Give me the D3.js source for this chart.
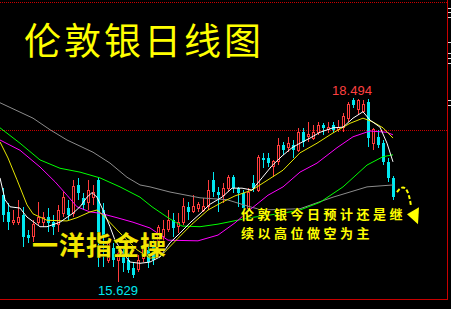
<!DOCTYPE html>
<html>
<head>
<meta charset="utf-8">
<script src="https://cdn.jsdelivr.net/npm/d3@7"></script>
<style>
  html, body { margin: 0; padding: 0; background: #000; overflow: hidden; }
</style>
</head>
<body>
<div id="chart"></div>
<script>
// daily candles, [open, high, low, close]
const candles = [
  [16.98,17.09,16.56,16.67],[16.72,16.86,16.44,16.56],[16.55,16.75,16.52,16.59],[16.55,16.91,16.52,16.64],
  [16.67,16.80,16.17,16.33],[16.36,16.44,16.24,16.31],[16.33,16.59,16.25,16.52],[16.55,16.87,16.52,16.63],
  [16.56,16.72,16.49,16.64],[16.64,16.78,16.41,16.55],[16.56,16.67,16.36,16.49],[16.52,16.83,16.41,16.75],
  [16.70,17.03,16.64,16.95],[16.78,16.91,16.59,16.67],[16.70,17.22,16.64,17.11],[17.14,17.25,16.91,17.02],
  [16.94,17.02,16.75,16.83],[16.86,17.22,16.75,17.06],[16.94,17.14,16.83,17.03],[17.22,17.26,15.86,16.41],
  [16.75,16.86,15.86,16.33],[15.97,16.25,15.92,16.24],[16.16,16.24,15.86,15.97],[15.97,16.13,15.629,16.08],
  [16.08,16.17,15.78,15.92],[15.97,16.08,15.77,15.82],[15.85,15.94,15.69,15.74],[15.82,16.05,15.78,15.97],
  [16.00,16.28,15.94,16.20],[16.13,16.22,15.85,15.94],[16.17,16.28,15.89,15.97],[16.28,16.52,16.20,16.47],
  [16.33,16.59,16.25,16.44],[16.44,16.75,16.41,16.59],[16.59,16.70,16.33,16.47],[16.49,16.70,16.39,16.56],
  [16.55,16.94,16.52,16.80],[16.80,16.87,16.59,16.72],[16.72,16.98,16.70,16.80],[16.78,16.87,16.72,16.83],
  [16.75,16.94,16.72,16.80],[16.80,17.22,16.75,17.06],[17.22,17.34,16.95,17.03],[17.03,17.11,16.72,16.98],
  [16.98,17.17,16.86,17.09],[17.09,17.30,17.03,17.25],[17.26,17.30,17.02,17.09],[17.09,17.11,16.80,17.02],
  [17.02,17.06,16.75,16.78],[16.78,17.09,16.75,17.03],[17.17,17.30,17.03,17.09],[17.06,17.61,17.03,17.56],
  [17.56,17.64,17.40,17.53],[17.56,17.64,17.42,17.48],[17.42,17.53,17.26,17.50],[17.50,17.87,17.45,17.76],
  [17.76,17.81,17.61,17.68],[17.73,17.89,17.65,17.79],[17.76,17.84,17.56,17.68],[17.68,18.03,17.65,17.96],
  [17.96,18.03,17.73,17.81],[17.89,18.12,17.81,17.92],[17.87,18.07,17.84,17.96],[17.96,18.12,17.92,18.07],
  [18.07,18.10,17.92,18.03],[18.00,18.12,17.95,18.04],[18.07,18.12,17.95,18.00],[18.00,18.15,17.96,18.04],
  [18.04,18.26,17.96,18.20],[18.18,18.43,18.12,18.39],[18.46,18.494,18.34,18.39],[18.31,18.48,18.23,18.46],
  [18.28,18.46,18.26,18.39],[18.43,18.48,17.73,17.87],[17.79,18.03,17.68,18.00],[17.89,18.00,17.72,17.76],
  [17.79,17.84,17.45,17.50],[17.50,17.56,17.19,17.25],[17.25,17.28,16.91,16.95]
];

// moving averages, [candle index, price]
const maWhite = [[-0.6,17.25],[0.4,16.91],[1.4,16.80],[3.4,16.78],[4.8,16.64],[7.4,16.49],[8.8,16.49],[11.4,16.56],
  [14,16.70],[15.4,16.80],[16.8,16.95],[17.8,17.02],[18.8,16.95],[20,16.75],[21.4,16.49],[22.4,16.28],[24,16.08],
  [25.4,15.94],[27.4,15.92],[29.4,15.94],[31.4,16.02],[33.4,16.24],[35.4,16.39],[37.4,16.55],[39.4,16.69],
  [41.4,16.84],[43.8,16.95],[45.8,17.09],[47.8,17.09],[49.8,17.06],[51.8,17.25],[53.8,17.44],[55.8,17.59],
  [57.8,17.72],[59.4,17.79],[61.4,17.87],[63.4,17.96],[66,18.03],[68,18.04],[70,18.18],[72,18.28],[73.4,18.15],
  [75.4,18.04],[76.8,17.79],[78,17.50]];
const maYellow = [[-0.6,17.81],[1,17.56],[2.8,17.22],[4.8,16.83],[6,16.69],[8.8,16.59],[12.8,16.58],[14.8,16.63],
  [17.4,16.72],[18.8,16.75],[20,16.67],[22.8,16.44],[24.8,16.28],[26.8,16.13],[29.4,16.00],[31.4,16.02],[35,16.31],
  [37.8,16.53],[41,16.75],[43.8,16.87],[46.4,16.97],[49.8,17.06],[53,17.22],[56,17.37],[59.4,17.64],[62.8,17.79],
  [66,17.95],[69.4,18.10],[72,18.18],[74,18.12],[76,18.03],[78,17.87]];
const maMagenta = [[-0.6,17.84],[3.4,17.68],[7.4,17.42],[10.4,17.19],[12.8,16.98],[14.8,16.80],[17.4,16.72],
  [19.4,16.70],[22.8,16.63],[26,16.56],[29.4,16.47],[33,16.28],[39,16.27],[43,16.36],[46.4,16.55],[49.8,16.78],
  [53,16.98],[56,17.11],[59.4,17.34],[62.8,17.48],[66.8,17.72],[70,17.89],[73.4,17.98],[76.8,17.96],[78,17.92]];
const maGreen = [[-0.6,18.03],[3.4,17.79],[7.4,17.53],[11.4,17.40],[15.4,17.34],[19.4,17.25],[23.4,17.11],
  [27.4,16.95],[29.8,16.80],[33,16.63],[35.8,16.50],[39.4,16.49],[43,16.53],[49.4,16.63],[56,16.70],[59.4,16.75],
  [63.4,16.87],[68,17.11],[72.8,17.45],[76,17.58],[78,17.61]];
const maGray = [[-0.6,18.42],[6,18.18],[9.4,18.00],[12.8,17.84],[18,17.65],[21.4,17.48],[24.8,17.26],[27.4,17.14],
  [29.4,17.11],[33.4,17.03],[39.4,16.94],[44.8,16.91],[49.4,16.80],[51.8,16.75],[59.4,16.77],[66,16.95],
  [72.8,17.11],[78,17.14]];

const levels = [18.00];
const highLabel = "18.494", lowLabel = "15.629";
const titleText = "伦敦银日线图";
const markText = "一洋指金操";
const noteLines = ["伦敦银今日预计还是继", "续以高位做空为主"];
const sideTicks = [19.90, 19.83, 19.75, 19.37, 19.19, 19.12, 19.04, 18.46, 18.39];

var width = 451, height = 309;
var plotRight = 447, plotBottom = 299;

var svg = d3.select("#chart")
  .append("svg")
  .attr("width", width)
  .attr("height", height)
  .style("display", "block")
  .style("background", "#000");

var x = d3.scaleLinear().domain([0, candles.length - 1]).range([3, 393]);
var y = d3.scaleLinear().domain([15.629, 18.494]).range([282, 98]);

svg.append("defs").append("clipPath")
  .attr("id", "plot")
  .append("rect")
  .attr("x", 0).attr("y", 0)
  .attr("width", plotRight).attr("height", plotBottom);

// frame
svg.append("line")
  .attr("x1", 0).attr("x2", plotRight).attr("y1", 2.5).attr("y2", 2.5)
  .attr("stroke", "#c80000").attr("stroke-dasharray", "1,1");
svg.append("line")
  .attr("x1", 0).attr("x2", plotRight + 1).attr("y1", plotBottom + 0.5).attr("y2", plotBottom + 0.5)
  .attr("stroke", "#c80000");
svg.append("line")
  .attr("x1", plotRight + 0.5).attr("x2", plotRight + 0.5).attr("y1", 0).attr("y2", plotBottom)
  .attr("stroke", "#c80000");

// right side ticks (labels fall outside the window)
svg.append("g")
  .attr("transform", "translate(" + (plotRight + 1) + ",0)")
  .call(d3.axisRight(y).tickValues(sideTicks).tickSize(4).tickFormat(""))
  .call(g => g.select(".domain").remove())
  .selectAll("line").attr("stroke", "#ddd").attr("shape-rendering", "crispEdges");

var plot = svg.append("g").attr("clip-path", "url(#plot)");

// level line
plot.selectAll(".level")
  .data(levels)
  .enter()
  .append("line")
  .attr("x1", 0).attr("x2", plotRight)
  .attr("y1", d => Math.round(y(d)) + 0.5).attr("y2", d => Math.round(y(d)) + 0.5)
  .attr("stroke", "#c80000").attr("stroke-dasharray", "1,1");

// candles
var up = d => d[3] >= d[0];
var cg = plot.append("g").attr("shape-rendering", "crispEdges");

cg.selectAll(".wick")
  .data(candles)
  .enter()
  .append("line")
  .attr("x1", (d, i) => Math.round(x(i)) + 0.5)
  .attr("x2", (d, i) => Math.round(x(i)) + 0.5)
  .attr("y1", d => y(d[1]))
  .attr("y2", d => y(d[2]))
  .attr("stroke", d => up(d) ? "#ff3c3c" : "#00e8f0");

cg.selectAll(".body")
  .data(candles)
  .enter()
  .append("rect")
  .attr("x", (d, i) => up(d) ? Math.round(x(i)) - 0.5 : Math.round(x(i)) - 1)
  .attr("width", d => up(d) ? 2 : 3)
  .attr("y", d => y(Math.max(d[0], d[3])))
  .attr("height", d => Math.max(1, Math.abs(y(d[0]) - y(d[3]))))
  .attr("fill", d => up(d) ? "#000" : "#00e8f0")
  .attr("stroke", d => up(d) ? "#ff3c3c" : "none");

// moving averages
var line = d3.line().x(d => x(d[0])).y(d => y(d[1]));
var maList = [
  [maGray, "#8c8c8c"],
  [maGreen, "#00ff00"],
  [maMagenta, "#ff00ff"],
  [maYellow, "#e6e600"],
  [maWhite, "#ffffff"]
];
plot.selectAll(".ma")
  .data(maList)
  .enter()
  .append("path")
  .attr("d", d => line(d[0]))
  .attr("fill", "none")
  .attr("stroke", d => d[1])
  .attr("stroke-width", 1);

// high / low marks
var hiIdx = d3.maxIndex(candles, d => d[1]);
var loIdx = d3.minIndex(candles, d => d[2]);
svg.append("text")
  .attr("x", x(hiIdx) - 1).attr("y", y(candles[hiIdx][1]) - 3)
  .attr("text-anchor", "middle")
  .attr("font-family", "Liberation Sans, Arial, sans-serif")
  .attr("font-size", 13)
  .attr("fill", "#ff4040")
  .text(highLabel);
svg.append("text")
  .attr("x", x(loIdx)).attr("y", y(candles[loIdx][2]) + 13)
  .attr("text-anchor", "middle")
  .attr("font-family", "Liberation Sans, Arial, sans-serif")
  .attr("font-size", 13)
  .attr("fill", "#00e8f0")
  .text(lowLabel);

// title
svg.append("text")
  .attr("x", 24).attr("y", 55)
  .attr("font-family", "Noto Sans CJK SC, sans-serif")
  .attr("font-size", 37)
  .attr("letter-spacing", 3)
  .attr("fill", "#ffff00")
  .text(titleText);

// watermark
svg.append("text")
  .attr("x", 32).attr("y", 255)
  .attr("font-family", "Noto Sans CJK SC, sans-serif")
  .attr("font-size", 26)
  .attr("font-weight", "bold")
  .attr("letter-spacing", 1)
  .attr("fill", "#f2e600")
  .attr("stroke", "#000").attr("stroke-width", 0.6)
  .attr("paint-order", "stroke")
  .text(markText);

// note
svg.append("g").selectAll("text")
  .data(noteLines)
  .enter()
  .append("text")
  .attr("x", 241)
  .attr("y", (d, i) => 219 + i * 19)
  .attr("font-family", "Noto Sans CJK SC, sans-serif")
  .attr("font-size", 13)
  .attr("font-weight", "bold")
  .attr("letter-spacing", 3.5)
  .attr("fill", "#ffff00")
  .attr("stroke", "#000").attr("stroke-width", 0.8)
  .attr("paint-order", "stroke")
  .text(d => d);

// arrow from last candle
var last = candles.length - 1;
var ax = x(last) + 4, ay = y(candles[last][3]) - 5;
svg.append("path")
  .attr("d", "M" + ax + "," + ay + " Q" + (ax + 10) + "," + (ay - 14) + " " + (ax + 14) + "," + (ay + 14))
  .attr("fill", "none")
  .attr("stroke", "#ffff00")
  .attr("stroke-width", 2)
  .attr("stroke-dasharray", "4,2");
svg.append("path")
  .attr("d", "M" + (ax + 10) + "," + (ay + 22) + " L" + (ax + 22) + "," + (ay + 15) + " L" + (ax + 21) + "," + (ay + 32) + " Z")
  .attr("fill", "#ffff00");
</script>
</body>
</html>
